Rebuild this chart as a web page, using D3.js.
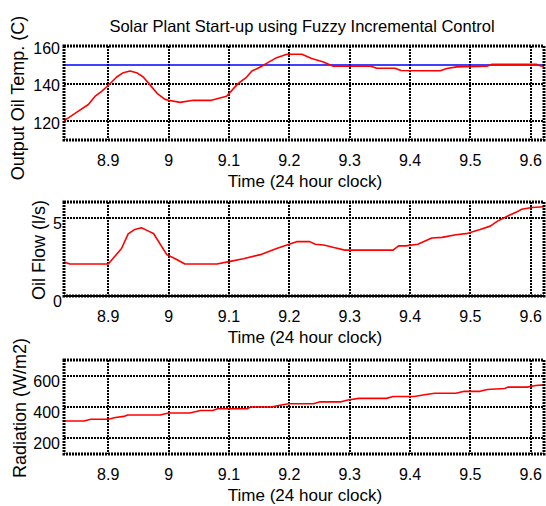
<!DOCTYPE html>
<html>
<head>
<meta charset="utf-8">
<script src="https://cdn.jsdelivr.net/npm/d3@7"></script>
<style>
  body { margin: 0; background: #fff; }
  text { font-family: "Liberation Sans", Arial, sans-serif; fill: #000; }
</style>
</head>
<body>
<svg id="chart" width="546" height="506"></svg>
<script>
// values
var timeTicks = [8.9, 9, 9.1, 9.2, 9.3, 9.4, 9.5, 9.6];
var tempTicks = [120, 140, 160];
var flowTicks = [0, 5];
var radTicks = [200, 400, 600];
var setpoint = 150;

var tempTime = [8.8267, 8.834, 8.848, 8.867, 8.878, 8.889, 8.900, 8.914, 8.925, 8.936, 8.947, 8.958, 8.9695, 8.982, 8.994,
  9.0, 9.019, 9.041, 9.071, 9.096, 9.115, 9.1295, 9.138, 9.152, 9.163, 9.179, 9.196, 9.221, 9.237, 9.2565, 9.273,
  9.30, 9.335, 9.345, 9.375, 9.385, 9.417, 9.45, 9.461, 9.4775, 9.527, 9.535, 9.61, 9.617, 9.622];
var tempVal = [120.4, 121.8, 124.8, 128.9, 133.2, 135.9, 139.0, 143.5, 145.8, 146.7, 145.8, 143.5, 139.2, 134.5, 131.6,
  131.1, 130.0, 131.1, 131.1, 133.3, 140.0, 143.5, 146.7, 148.8, 150.9, 153.8, 155.6, 155.6, 153.3, 151.5, 149.2,
  149.2, 149.2, 148.2, 148.2, 147.0, 146.8, 146.8, 148.0, 148.9, 149.2, 150.2, 150.2, 149.4, 149.2];

var flowTime = [8.8267, 8.8366, 8.9, 8.922, 8.933, 8.944, 8.955, 8.964, 8.975, 8.997, 9.011, 9.027, 9.080, 9.102, 9.124,
  9.152, 9.179, 9.212, 9.234, 9.243, 9.257, 9.274, 9.292, 9.372, 9.381, 9.393, 9.413, 9.436, 9.453, 9.476, 9.493,
  9.516, 9.533, 9.545, 9.562, 9.580, 9.585, 9.602, 9.622];
var flowVal = [2.17, 2.04, 2.04, 3.03, 3.97, 4.25, 4.36, 4.19, 3.99, 2.64, 2.38, 2.04, 2.04, 2.21, 2.38,
  2.64, 3.03, 3.47, 3.47, 3.30, 3.26, 3.09, 2.93, 2.93, 3.20, 3.20, 3.30, 3.70, 3.74, 3.91, 3.98,
  4.24, 4.46, 4.78, 5.11, 5.43, 5.54, 5.65, 5.70];

var radTime = [8.8267, 8.860, 8.871, 8.9, 8.912, 8.926, 8.932, 8.986, 9.0, 9.035, 9.053, 9.073, 9.081, 9.130, 9.136,
  9.170, 9.182, 9.199, 9.240, 9.251, 9.286, 9.297, 9.315, 9.361, 9.372, 9.407, 9.424, 9.441, 9.476, 9.490,
  9.516, 9.528, 9.557, 9.562, 9.594, 9.608, 9.622];
var radVal = [311, 311, 322, 322, 333, 340, 349, 349, 362, 362, 378, 378, 389, 389, 400,
  400, 410, 421, 421, 433, 433, 445, 455, 455, 467, 467, 478, 488, 488, 500,
  500, 512, 518, 527, 527, 537, 541];

var svg = d3.select("#chart");
svg.append("rect").attr("width", 546).attr("height", 506).attr("fill", "#fff");

var x = d3.scaleLinear().domain([8.8267, 9.622]).range([64, 544]);

var panels = [
  { top: 46, bottom: 140, domain: [110, 160], ticks: tempTicks, times: tempTime, vals: tempVal,
    label: "Output Oil Temp. (C)", labelX: 24, labelY: 98, tickX: 60, tickDy: 7.5 },
  { top: 202, bottom: 296, domain: [0, 6], ticks: flowTicks, times: flowTime, vals: flowVal,
    label: "Oil Flow (l/s)", labelX: 45, labelY: 250, tickX: 62, tickDy: 11 },
  { top: 360, bottom: 454, domain: [100, 700], ticks: radTicks, times: radTime, vals: radVal,
    label: "Radiation (W/m2)", labelX: 26, labelY: 408, tickX: 60, tickDy: 11 }
];

svg.append("text")
  .attr("x", 302).attr("y", 31.5)
  .attr("text-anchor", "middle")
  .style("font-size", "16.5px")
  .text("Solar Plant Start-up using Fuzzy Incremental Control");

panels.forEach(function (p, i) {
  var y = d3.scaleLinear().domain(p.domain).range([p.bottom, p.top]);
  var g = svg.append("g");

  // dotted grid, snapped to whole pixels so it stays dark
  g.selectAll(".vg").data(timeTicks).enter().append("line")
    .attr("x1", function (d) { return Math.round(x(d)); })
    .attr("x2", function (d) { return Math.round(x(d)); })
    .attr("y1", p.top).attr("y2", p.bottom)
    .attr("stroke", "#000").attr("stroke-width", 2).attr("stroke-dasharray", "2,1");
  g.selectAll(".hg").data(p.ticks).enter().append("line")
    .attr("x1", 64).attr("x2", 544)
    .attr("y1", function (d) { return Math.round(y(d)); })
    .attr("y2", function (d) { return Math.round(y(d)); })
    .attr("stroke", "#000").attr("stroke-width", 2).attr("stroke-dasharray", "2,1");

  if (i === 0) {
    g.append("line")
      .attr("x1", 64).attr("x2", 544)
      .attr("y1", Math.round(y(setpoint))).attr("y2", Math.round(y(setpoint)))
      .attr("stroke", "#0000ff").attr("stroke-width", 1.6);
  }

  var line = d3.line()
    .x(function (d) { return x(d[0]); })
    .y(function (d) { return y(d[1]); });
  g.append("path")
    .datum(d3.zip(p.times, p.vals))
    .attr("d", line)
    .attr("fill", "none")
    .attr("stroke", "#ff0000")
    .attr("stroke-width", 1.6)
    .attr("stroke-linejoin", "round");

  // frame
  g.append("rect")
    .attr("x", 64).attr("y", p.top)
    .attr("width", 480).attr("height", p.bottom - p.top)
    .attr("fill", "none").attr("stroke", "#000")
    .attr("stroke-width", 3).attr("stroke-dasharray", "2,1");

  // tick labels
  g.selectAll(".xt").data(timeTicks).enter().append("text")
    .attr("x", function (d) { return x(d); })
    .attr("y", p.bottom + 25.5)
    .attr("text-anchor", "middle")
    .style("font-size", "16px")
    .text(function (d) { return d3.format("")(d); });
  g.selectAll(".yt").data(p.ticks).enter().append("text")
    .attr("x", p.tickX)
    .attr("y", function (d) { return y(d) + p.tickDy; })
    .attr("text-anchor", "end")
    .style("font-size", "16px")
    .text(function (d) { return d; });

  g.append("text")
    .attr("x", 305).attr("y", p.bottom + 47)
    .attr("text-anchor", "middle")
    .style("font-size", "17px")
    .text("Time (24 hour clock)");

  g.append("text")
    .attr("transform", "translate(" + p.labelX + "," + p.labelY + ") rotate(-90)")
    .attr("text-anchor", "middle")
    .style("font-size", "18px")
    .text(p.label);
});
</script>
</body>
</html>
